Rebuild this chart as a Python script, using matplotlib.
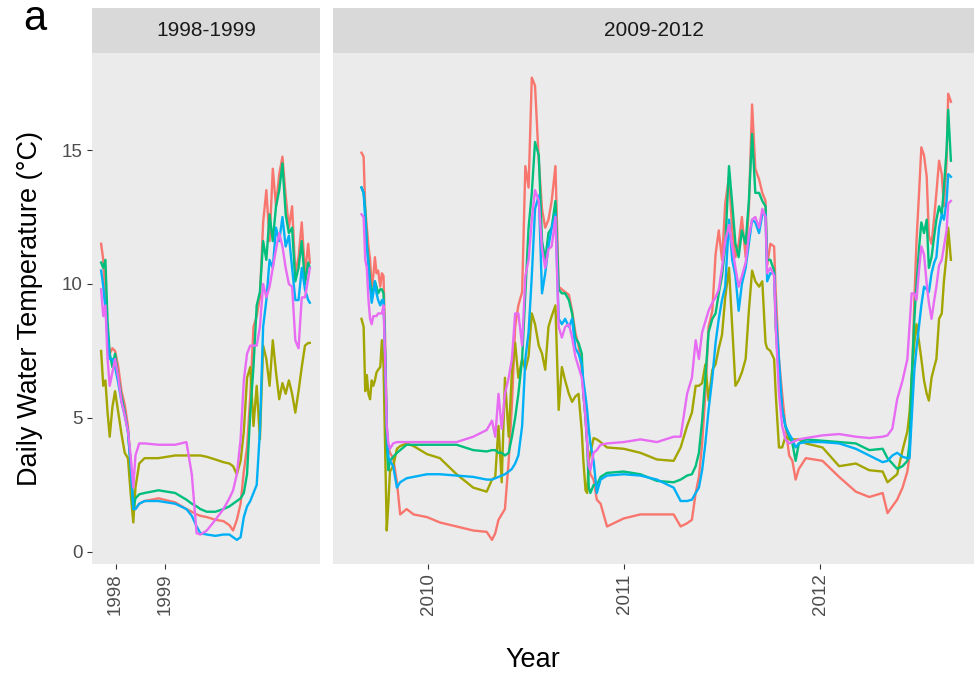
"""
Daily water temperature at five sites, two faceted record periods
(1998-1999 and 2009-2012), drawn in a ggplot-like look.
"""

import matplotlib
matplotlib.use("Agg")
import matplotlib.pyplot as plt
import pandas as pd

plt.rcParams["font.family"] = ["Liberation Sans", "DejaVu Sans"]

# ============================================================
# DATA (deg C)
# ============================================================
SITES = ["Site 1", "Site 2", "Site 3", "Site 4", "Site 5"]

# ---- period 1: 1998-1999 -----------------------------------
P1_DATES = [
    "1998-09-04", "1998-09-08", "1998-09-12", "1998-09-16", "1998-09-20", "1998-09-25", "1998-09-30",
    "1998-10-06", "1998-10-12", "1998-10-18", "1998-10-24", "1998-10-29", "1998-11-03", "1998-11-07",
    "1998-11-14", "1998-11-24", "1998-12-20", "1999-01-20", "1999-02-10", "1999-02-20", "1999-03-01",
    "1999-03-08", "1999-03-20", "1999-04-05", "1999-04-20", "1999-05-01", "1999-05-08", "1999-05-15",
    "1999-05-22", "1999-05-28", "1999-06-03", "1999-06-09", "1999-06-15", "1999-06-21", "1999-06-27",
    "1999-07-03", "1999-07-09", "1999-07-15", "1999-07-21", "1999-07-27", "1999-08-02", "1999-08-08",
    "1999-08-14", "1999-08-20", "1999-08-26", "1999-09-01", "1999-09-07", "1999-09-13", "1999-09-19",
    "1999-09-25", "1999-09-28",
]
P1_SITE1 = [11.5, 10.9, 9.2, 8.2, 7.4, 7.6, 7.5, 6.9, 6.0, 5.5,
            4.7, 3.3, 1.8, 1.6, 1.8, 1.9, 2.0, 1.85, 1.6, 1.5,
            1.4, 1.35, 1.3, 1.2, 1.15, 1.0, 0.8, 1.2, 1.8, 3.0,
            3.9, 5.8, 8.4, 8.8, 9.5, 12.3, 13.5, 11.6, 14.3, 12.9,
            14.1, 14.75, 13.3, 12.1, 12.9, 10.4, 11.0, 12.3, 10.4, 11.5, 10.8]
P1_SITE2 = [7.5, 6.2, 6.4, 5.2, 4.3, 5.4, 6.0, 5.2, 4.4, 3.7,
            3.5, 2.2, 1.1, 2.4, 3.3, 3.5, 3.5, 3.6, 3.6, 3.6,
            3.6, 3.6, 3.55, 3.45, 3.35, 3.3, 3.2, 2.9, 3.4, 4.5,
            6.5, 6.9, 4.7, 6.2, 4.2, 7.7, 7.2, 6.2, 7.9, 6.7,
            5.7, 6.3, 5.9, 6.4, 5.9, 5.2, 6.0, 6.9, 7.7, 7.8, 7.8]
P1_SITE3 = [10.8, 10.6, 10.9, 8.6, 7.4, 6.9, 7.4, 6.5, 5.8, 5.2,
            4.5, 3.3, 1.6, 2.0, 2.15, 2.2, 2.3, 2.2, 1.95, 1.8,
            1.7, 1.6, 1.5, 1.5, 1.6, 1.7, 1.8, 1.9, 2.0, 2.2,
            2.9, 5.2, 6.9, 9.2, 9.7, 11.6, 10.9, 12.6, 11.6, 12.9,
            13.5, 14.5, 12.6, 11.9, 12.1, 10.1, 10.6, 11.6, 10.0, 10.8, 10.6]
P1_SITE4 = [10.5, 9.9, 9.1, 8.0, 7.2, 7.2, 6.9, 6.3, 5.6, 5.1,
            4.5, 3.2, 1.6, 1.6, 1.8, 1.9, 1.9, 1.8, 1.6, 1.35,
            0.95, 0.7, 0.65, 0.6, 0.65, 0.65, 0.55, 0.45, 0.55, 1.3,
            1.7, 1.9, 2.2, 2.5, 4.5, 8.4, 9.4, 10.9, 10.6, 12.1,
            11.6, 12.5, 11.4, 11.8, 10.6, 9.4, 9.4, 10.6, 9.8, 9.4, 9.3]
P1_SITE5 = [9.8, 8.8, 9.2, 7.2, 6.2, 6.7, 7.2, 6.5, 5.6, 5.1,
            4.5, 3.6, 2.4, 3.6, 4.05, 4.05, 4.0, 4.0, 4.1, 2.9,
            0.7, 0.65, 0.8, 1.2, 1.6, 2.0, 2.3, 2.9, 4.2, 6.4,
            7.4, 7.7, 7.7, 7.7, 8.4, 10.0, 9.5, 9.9, 10.6, 11.3,
            11.9, 11.4, 10.6, 10.0, 9.9, 7.9, 7.6, 9.5, 9.5, 10.2, 10.6]

# ---- period 2: 2009-2012 -----------------------------------
P2_DATES = [
    "2009-08-30", "2009-09-03", "2009-09-06", "2009-09-09", "2009-09-12", "2009-09-15", "2009-09-18",
    "2009-09-21", "2009-09-24", "2009-09-27", "2009-09-30", "2009-10-04", "2009-10-07", "2009-10-10",
    "2009-10-13", "2009-10-16", "2009-10-19", "2009-10-22", "2009-10-28", "2009-11-04", "2009-11-10",
    "2009-11-22", "2009-12-05", "2009-12-30", "2010-01-23", "2010-02-23", "2010-03-26", "2010-04-20",
    "2010-04-30", "2010-05-06", "2010-05-12", "2010-05-18", "2010-05-24", "2010-05-31", "2010-06-06",
    "2010-06-12", "2010-06-18", "2010-06-25", "2010-07-01", "2010-07-07", "2010-07-13", "2010-07-19",
    "2010-07-26",
    "2010-08-01", "2010-08-07", "2010-08-13", "2010-08-19", "2010-08-26", "2010-09-01", "2010-09-07",
    "2010-09-13", "2010-09-20", "2010-09-26", "2010-10-02", "2010-10-08", "2010-10-14", "2010-10-17",
    "2010-10-21", "2010-10-24", "2010-10-27", "2010-10-30", "2010-11-05", "2010-11-11", "2010-11-18",
    "2010-11-30", "2010-12-31", "2011-01-31", "2011-03-03", "2011-04-03", "2011-04-16", "2011-04-28",
    "2011-05-07", "2011-05-14", "2011-05-20", "2011-05-26", "2011-06-01", "2011-06-07", "2011-06-14",
    "2011-06-20", "2011-06-26", "2011-07-02", "2011-07-08", "2011-07-15", "2011-07-21", "2011-07-27",
    "2011-08-02", "2011-08-08", "2011-08-15", "2011-08-21", "2011-08-27", "2011-09-02",
    "2011-09-09", "2011-09-15", "2011-09-21", "2011-09-24", "2011-09-30", "2011-10-07", "2011-10-10",
    "2011-10-16", "2011-10-22", "2011-10-28", "2011-11-04", "2011-11-10", "2011-11-16", "2011-11-22",
    "2011-12-05", "2012-01-05", "2012-02-05", "2012-03-07", "2012-04-01", "2012-04-26", "2012-05-05",
    "2012-05-14", "2012-05-23", "2012-06-02", "2012-06-11", "2012-06-15", "2012-06-19", "2012-06-24",
    "2012-06-28", "2012-07-03", "2012-07-07", "2012-07-12", "2012-07-17", "2012-07-21", "2012-07-26",
    "2012-07-31", "2012-08-04", "2012-08-09", "2012-08-14", "2012-08-18", "2012-08-23", "2012-08-26",
    "2012-08-31",
]
P2_SITE1 = [
    14.9, 14.75, 12.8, 12.1, 11.4, 10.9, 9.9, 10.3, 11.0, 10.4,
    10.5, 9.9, 10.4, 10.3, 8.0, 4.7, 3.9, 3.7, 3.5, 2.6,
    1.4, 1.6, 1.4, 1.3, 1.1, 0.95, 0.8, 0.75, 0.45, 0.7,
    1.2, 1.4, 1.6, 3.4, 5.5, 8.4, 9.2, 9.7, 14.4, 13.6,
    17.7, 17.4, 14.6,
    12.8, 12.1, 12.4, 13.1, 14.4, 9.9, 9.8, 9.7, 9.6, 9.0,
    8.2, 7.7, 6.8, 5.9, 5.0, 4.05, 3.4, 2.9, 2.7, 1.95,
    1.8, 0.95, 1.25, 1.4, 1.4, 1.4, 0.95, 1.07, 1.2, 2.2,
    2.8, 4.05, 5.9, 8.4, 9.0, 11.1, 12.0, 10.9, 13.0, 14.0,
    12.0, 11.0, 11.5, 12.5, 11.0, 12.8, 16.7, 14.3,
    13.9, 13.4, 13.1, 10.7, 11.5, 11.4, 9.7, 7.2, 5.9, 4.7,
    3.6, 3.4, 2.7, 3.1, 3.5, 3.4, 2.8, 2.25, 2.05, 2.2,
    1.45, 1.7, 1.95, 2.4, 3.0, 3.6, 6.0, 9.4, 11.6, 13.5,
    15.1, 14.8, 14.0, 11.8, 11.5, 12.5, 13.4, 14.6, 14.1, 12.9,
    14.6, 17.1, 16.8,
]
P2_SITE2 = [
    8.7, 8.4, 6.0, 6.6, 5.9, 5.7, 6.4, 6.2, 6.4, 6.7,
    6.8, 6.9, 7.9, 7.0, 4.0, 0.8, 1.8, 3.0, 3.2, 3.85,
    3.95, 4.05, 3.95, 3.65, 3.5, 2.9, 2.4, 2.25, 2.7, 2.8,
    4.7, 2.6, 6.5, 4.3, 6.7, 7.8, 6.5, 7.2, 6.8, 7.3,
    8.9, 8.5, 7.7,
    7.4, 6.8, 8.4, 8.8, 9.2, 5.3, 6.9, 6.4, 5.9, 5.6,
    5.8, 5.9, 4.5, 3.4, 2.3, 2.2, 3.4, 3.7, 4.25, 4.2,
    4.1, 3.9, 3.85, 3.7, 3.45, 3.4, 3.9, 4.7, 5.2, 6.2,
    6.2, 6.3, 7.0, 5.65, 6.8, 7.0, 7.6, 8.1, 9.5, 10.6,
    8.4, 6.2, 6.4, 6.7, 7.2, 9.0, 10.5, 10.1,
    9.9, 10.1, 7.8, 7.6, 7.5, 7.2, 5.9, 3.9, 3.9, 4.3,
    4.2, 4.2, 4.2, 4.2, 4.05, 3.9, 3.2, 3.3, 3.05, 3.0,
    2.6, 2.75, 2.9, 3.8, 4.5, 5.2, 6.5, 7.8, 8.5, 7.8,
    7.2, 6.4, 5.9, 5.65, 6.5, 6.9, 7.2, 8.7, 8.9, 10.1,
    11.1, 12.1, 10.9,
]
P2_SITE3 = [
    13.6, 13.4, 12.8, 11.5, 10.9, 10.1, 9.65, 9.8, 10.1, 9.9,
    9.65, 9.8, 9.8, 9.65, 7.2, 4.05, 3.05, 3.4, 3.55, 3.7,
    3.8, 4.0, 4.0, 4.0, 4.0, 4.0, 3.8, 3.75, 3.8, 3.8,
    3.7, 3.7, 3.6, 3.7, 4.3, 5.0, 5.9, 7.2, 9.65, 12.1,
    13.4, 15.3, 14.8,
    11.6, 10.9, 11.9, 12.1, 13.1, 9.8, 9.65, 9.65, 9.4, 8.9,
    8.0, 7.8, 7.4, 5.9, 5.0, 4.05, 2.4, 2.2, 2.5, 2.5,
    2.8, 2.95, 3.0, 2.9, 2.65, 2.6, 2.7, 2.85, 2.9, 3.2,
    3.7, 4.9, 6.5, 8.2, 8.7, 8.9, 9.65, 10.3, 11.4, 14.4,
    13.0, 11.5, 11.0, 12.0, 11.5, 13.1, 15.6, 13.4,
    13.4, 13.1, 12.9, 10.9, 10.9, 10.5, 8.4, 6.5, 5.3, 4.7,
    4.3, 4.05, 3.4, 4.05, 4.2, 4.15, 4.1, 4.05, 3.8, 3.85,
    3.5, 3.3, 3.1, 3.2, 3.4, 4.05, 6.5, 8.7, 10.0, 11.4,
    12.3, 11.9, 12.4, 10.6, 11.0, 11.8, 12.4, 12.9, 12.6, 13.6,
    15.0, 16.5, 14.6,
]
P2_SITE4 = [
    13.6, 13.4, 12.4, 11.4, 10.6, 9.9, 9.3, 9.65, 10.1, 9.65,
    9.4, 9.2, 9.4, 9.4, 7.4, 4.7, 3.55, 3.4, 3.2, 2.4,
    2.6, 2.75, 2.8, 2.9, 2.9, 2.85, 2.8, 2.7, 2.7, 2.75,
    2.8, 2.85, 2.9, 3.0, 3.1, 3.3, 3.6, 4.7, 7.2, 8.2,
    10.3, 12.8, 13.3,
    9.65, 10.4, 11.4, 12.1, 12.6, 8.7, 8.5, 8.7, 8.4, 8.7,
    7.6, 7.4, 7.0, 6.4, 5.8, 5.3, 4.6, 4.05, 3.4, 2.2,
    2.7, 2.85, 2.9, 2.85, 2.7, 2.4, 1.9, 1.9, 1.95, 2.2,
    2.4, 3.05, 4.05, 5.3, 6.5, 7.8, 8.7, 9.4, 9.9, 12.4,
    10.9, 10.3, 9.0, 10.0, 10.6, 11.5, 12.4, 12.3,
    11.9, 12.6, 12.6, 10.1, 10.4, 10.4, 8.9, 7.2, 5.3, 4.7,
    4.4, 4.2, 3.9, 4.05, 4.1, 4.1, 4.05, 3.85, 3.6, 3.35,
    3.4, 3.6, 3.7, 3.55, 3.5, 3.5, 5.0, 6.8, 7.6, 8.5,
    9.2, 9.9, 9.8, 9.7, 10.4, 10.8, 11.0, 12.1, 12.6, 12.4,
    13.1, 14.1, 14.0,
]
P2_SITE5 = [
    12.6, 12.5, 10.9, 10.6, 9.4, 8.7, 8.5, 8.8, 8.8, 8.8,
    8.9, 8.9, 8.9, 9.2, 7.2, 4.7, 4.05, 3.85, 4.05, 4.1,
    4.1, 4.1, 4.1, 4.1, 4.1, 4.1, 4.3, 4.55, 4.9, 4.3,
    5.9, 4.6, 5.9, 6.5, 7.2, 8.9, 8.9, 7.7, 10.3, 10.9,
    12.4, 13.5, 13.1,
    11.3, 10.6, 11.3, 11.4, 12.5, 8.4, 8.0, 8.4, 8.5, 8.0,
    7.3, 6.9, 6.5, 5.9, 5.0, 4.05, 3.2, 3.05, 3.7, 3.8,
    4.0, 4.05, 4.1, 4.2, 4.1, 4.3, 4.3, 5.9, 6.5, 7.9,
    7.2, 8.2, 8.6, 9.0, 9.3, 9.5, 9.8, 10.6, 11.6, 12.2,
    11.4, 10.6, 9.9, 10.3, 10.8, 11.8, 12.4, 12.5,
    12.1, 12.8, 12.5, 10.4, 10.6, 10.3, 8.4, 5.9, 4.7, 4.2,
    4.05, 4.1, 4.15, 4.2, 4.25, 4.35, 4.4, 4.3, 4.25, 4.3,
    4.35, 4.6, 5.7, 6.4, 7.2, 8.4, 9.65, 9.65, 9.4, 10.6,
    11.4, 11.1, 10.0, 9.3, 8.7, 9.4, 9.9, 10.7, 10.9, 11.4,
    12.0, 13.0, 13.1,
]

Y_TICKS = [0, 5, 10, 15]
P1_TICKS = ["1998-10-01", "1999-01-01"]
P1_TICK_LABELS = ["1998", "1999"]
P2_TICKS = ["2010-01-01", "2011-01-01", "2012-01-01"]
P2_TICK_LABELS = ["2010", "2011", "2012"]

# ============================================================
# STYLE
# ============================================================
W, H = 974, 675
COLORS = ["#F8766D", "#A3A500", "#00BF7D", "#00B0F6", "#E76BF3"]
PANEL_BG = "#EBEBEB"
STRIP_BG = "#D9D9D9"
TICK_SIZE = 13.5
STRIP_SIZE = 15
TITLE_SIZE = 19.5
YLIM = (-0.45, 18.62)


def px_box(x0, y0, x1, y1):
    """Pixel box (top-left origin) -> figure-fraction rect."""
    return [x0 / W, 1 - y1 / H, (x1 - x0) / W, (y1 - y0) / H]


def draw_panel(fig, box, strip_box, title, dates, series, xlim, ticks, tick_labels, show_y):
    ax = fig.add_axes(px_box(*box))
    x = pd.to_datetime(dates)
    for vals, col in zip(series, COLORS):
        ax.plot(x, vals, color=col, lw=1.7, solid_joinstyle="round")

    ax.set_facecolor(PANEL_BG)
    ax.set_xlim(pd.to_datetime(xlim[0]), pd.to_datetime(xlim[1]))
    ax.set_ylim(*YLIM)
    for s in ax.spines.values():
        s.set_visible(False)

    ax.set_xticks(pd.to_datetime(ticks))
    ax.set_xticklabels(tick_labels, rotation=90, va="top", ha="center")
    ax.tick_params(axis="x", length=3.6, width=0.8, color="#333333",
                   labelsize=TICK_SIZE, labelcolor="#4D4D4D", pad=3)
    if show_y:
        ax.set_yticks(Y_TICKS)
        ax.tick_params(axis="y", length=3.6, width=0.8, color="#333333",
                       labelsize=TICK_SIZE, labelcolor="#4D4D4D", pad=3)
    else:
        ax.set_yticks([])

    # facet strip
    sx = fig.add_axes(px_box(*strip_box))
    sx.set_facecolor(STRIP_BG)
    sx.set_xticks([]); sx.set_yticks([])
    for s in sx.spines.values():
        s.set_visible(False)
    sx.text(0.5, 0.5, title, ha="center", va="center", fontsize=STRIP_SIZE,
            color="#1A1A1A", transform=sx.transAxes)
    return ax


def main():
    fig = plt.figure(figsize=(W / 100, H / 100), dpi=100)

    draw_panel(fig, (92, 53, 320, 564), (92, 8, 320, 53), "1998-1999",
               P1_DATES, [P1_SITE1, P1_SITE2, P1_SITE3, P1_SITE4, P1_SITE5],
               ("1998-08-18", "1999-10-17"), P1_TICKS, P1_TICK_LABELS, True)
    draw_panel(fig, (333, 53, 974, 564), (333, 8, 974, 53), "2009-2012",
               P2_DATES, [P2_SITE1, P2_SITE2, P2_SITE3, P2_SITE4, P2_SITE5],
               ("2009-07-08", "2012-10-13"), P2_TICKS, P2_TICK_LABELS, False)

    fig.text(30 / W, 1 - 308 / H, "Daily Water Temperature (°C)", rotation=90,
             ha="center", va="center", fontsize=TITLE_SIZE)
    fig.text(533 / W, 1 - 660 / H, "Year", ha="center", va="center", fontsize=TITLE_SIZE)
    fig.text(23 / W, 1 - 30 / H, "a", ha="left", va="baseline", fontsize=30)

    fig.savefig("out.png", dpi=100)


if __name__ == "__main__":
    main()
